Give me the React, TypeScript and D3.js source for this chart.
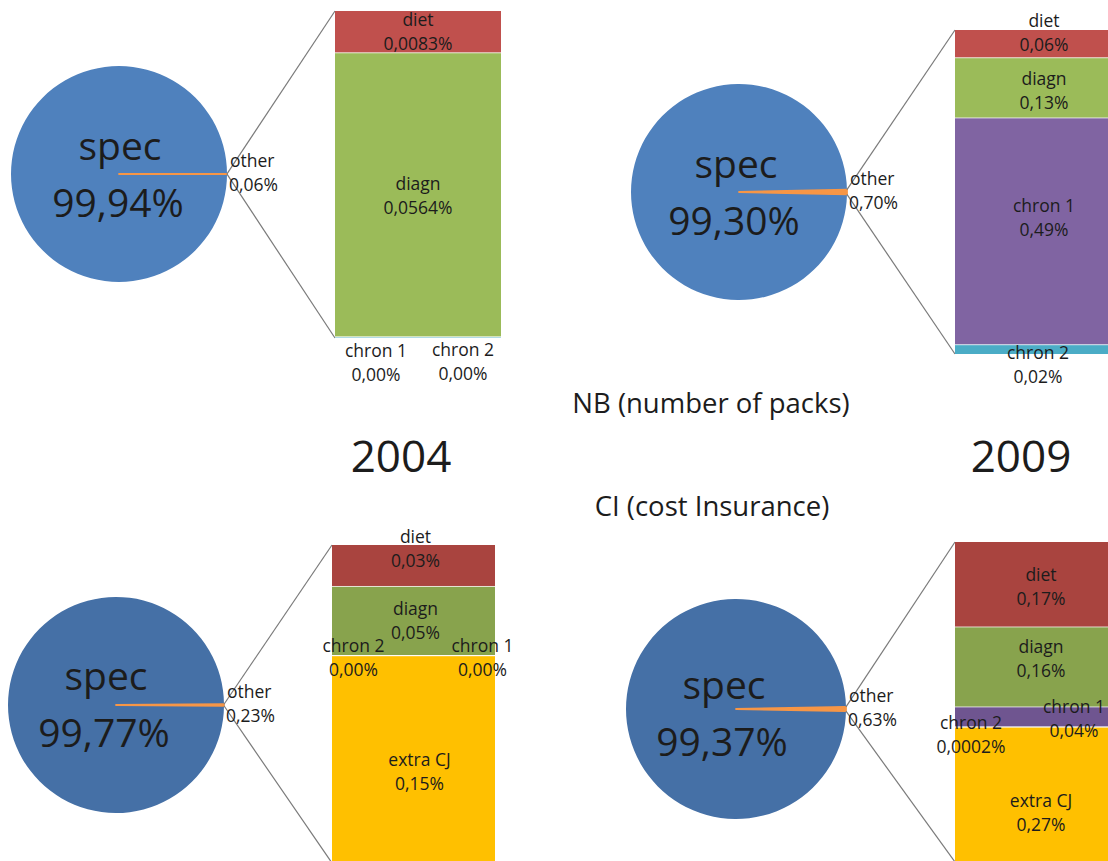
import React from 'react';
import * as d3 from 'd3';

// pie values (percent of total)
const pieNames = ['spec', 'other'];
const nb2004Pie = [99.94, 0.06];
const nb2009Pie = [99.3, 0.7];
const ci2004Pie = [99.77, 0.23];
const ci2009Pie = [99.37, 0.63];
const pieLabels = {
  nb2004: ['99,94%', '0,06%'],
  nb2009: ['99,30%', '0,70%'],
  ci2004: ['99,77%', '0,23%'],
  ci2009: ['99,37%', '0,63%'],
};

// bar of "other" split (top to bottom)
const nb2004Names = ['diet', 'diagn', 'chron 1', 'chron 2'];
const nb2004Values = [0.0083, 0.0564, 0, 0.0002];
const nb2004Labels = ['0,0083%', '0,0564%', '0,00%', '0,00%'];

const nb2009Names = ['diet', 'diagn', 'chron 1', 'chron 2'];
const nb2009Values = [0.06, 0.13, 0.49, 0.02];
const nb2009Labels = ['0,06%', '0,13%', '0,49%', '0,02%'];

const ci2004Names = ['diet', 'diagn', 'chron 2', 'chron 1', 'extra CJ'];
const ci2004Values = [0.03, 0.05, 0, 0, 0.15];
const ci2004Labels = ['0,03%', '0,05%', '0,00%', '0,00%', '0,15%'];

const ci2009Names = ['diet', 'diagn', 'chron 1', 'chron 2', 'extra CJ'];
const ci2009Values = [0.17, 0.16, 0.04, 0.0002, 0.27];
const ci2009Labels = ['0,17%', '0,16%', '0,04%', '0,0002%', '0,27%'];

const FONT = '"Open Sans", "Noto Sans", sans-serif';
const TEXT = '#1c1c1c';

const topColors = {
  spec: '#4f81bd', other: '#f79646', diet: '#c0504d', diagn: '#9bbb59',
  'chron 1': '#8064a2', 'chron 2': '#4bacc6', 'extra CJ': '#ffc000',
};
const bottomColors = {
  spec: '#4570a6', other: '#f79646', diet: '#a9443f', diagn: '#88a34d',
  'chron 1': '#6f5590', 'chron 2': '#4bacc6', 'extra CJ': '#ffc000',
};

// layout of each panel; label offsets are relative to segment middle
const panels = [
  {
    pie: nb2004Pie, pieText: pieLabels.nb2004, names: nb2004Names, values: nb2004Values,
    labels: nb2004Labels, colors: topColors,
    cx: 119, cy: 174, r: 108, specDx: 1, specDy: -14,
    barX: 335, barTop: 11, barW: 166, barH: 327,
    offs: [[0, -6], [0, -5], [-42, 20], [45, 19]],
  },
  {
    pie: nb2009Pie, pieText: pieLabels.nb2009, names: nb2009Names, values: nb2009Values,
    labels: nb2009Labels, colors: topColors,
    cx: 739, cy: 192, r: 108, specDx: -3, specDy: -14,
    barX: 955, barTop: 30, barW: 178, barH: 324,
    offs: [[0, -17], [0, -3], [0, -19], [-6, 10]],
  },
  {
    pie: ci2004Pie, pieText: pieLabels.ci2004, names: ci2004Names, values: ci2004Values,
    labels: ci2004Labels, colors: bottomColors,
    cx: 116, cy: 705, r: 108, specDx: -10, specDy: -15,
    barX: 332, barTop: 545, barW: 163, barH: 318,
    offs: [[2, -23], [2, -6], [-60, -4], [69, -4], [6, 7]],
  },
  {
    pie: ci2009Pie, pieText: pieLabels.ci2009, names: ci2009Names, values: ci2009Values,
    labels: ci2009Labels, colors: bottomColors,
    cx: 736, cy: 709, r: 110, specDx: -12, specDy: -10,
    barX: 955, barTop: 542, barW: 172, barH: 320,
    offs: [[0, -3], [0, -14], [33, -4], [-70, 2], [0, 12]],
  },
];

function Panel({ p }) {
  const total = d3.sum(p.pie);
  const a = (2 * Math.PI * p.pie[1]) / total;
  const pieGen = d3.pie<number>().sort(null)
    .startAngle(Math.PI / 2 + a / 2)
    .endAngle(Math.PI / 2 + a / 2 + 2 * Math.PI);
  const arcs = pieGen(p.pie);
  const arcGen = d3.arc<any>().innerRadius(0).outerRadius(p.r);

  const barSum = d3.sum(p.values);
  const y = d3.scaleLinear().domain([0, barSum]).range([p.barTop, p.barTop + p.barH]);
  const ends = Array.from(d3.cumsum(p.values));
  const starts = ends.map((e, i) => e - p.values[i]);
  const bx = p.barX + p.barW / 2;

  const up = a / 2;
  const p1 = [p.cx + p.r * Math.cos(up), p.cy - p.r * Math.sin(up)];
  const p2 = [p.cx + p.r * Math.cos(up), p.cy + p.r * Math.sin(up)];

  return (
    <g>
      {arcs.map((d, i) => (
        <path key={i} transform={`translate(${p.cx},${p.cy})`} d={arcGen(d) || ''}
          fill={p.colors[pieNames[i]]}
          stroke={i === 1 ? p.colors.other : 'none'} strokeWidth={i === 1 ? 1.8 : 0}
          strokeLinejoin="round" />
      ))}
      <text x={p.cx + p.specDx} y={p.cy + p.specDy} textAnchor="middle" fontSize={39}
        fontFamily={FONT} fill={TEXT}>spec</text>
      <text x={p.cx + p.specDx - 2} y={p.cy + p.specDy + 57} textAnchor="middle" fontSize={39}
        fontFamily={FONT} fill={TEXT}>{p.pieText[0]}</text>

      <line x1={p1[0]} y1={p1[1]} x2={p.barX} y2={y(0)} stroke="#7a7a7a" strokeWidth={1.2} />
      <line x1={p2[0]} y1={p2[1]} x2={p.barX} y2={y(barSum)} stroke="#7a7a7a" strokeWidth={1.2} />

      {p.values.map((v, i) => (
        <rect key={i} x={p.barX} y={y(starts[i])} width={p.barW}
          height={Math.max(0, y(ends[i]) - y(starts[i]))}
          fill={p.colors[p.names[i]]} />
      ))}
      {p.values.map((v, i) => i > 0 ? (
        <line key={'s' + i} x1={p.barX} x2={p.barX + p.barW} y1={y(starts[i])} y2={y(starts[i])}
          stroke="#ffffff" strokeOpacity={0.7} strokeWidth={1} />
      ) : null)}

      <text x={p.cx + p.r + 3} y={p.cy - 7} fontSize={17.5} fontFamily={FONT} fill={TEXT}>other</text>
      <text x={p.cx + p.r + 2} y={p.cy + 17} fontSize={17.5} fontFamily={FONT} fill={TEXT}>{p.pieText[1]}</text>

      {p.names.map((n, i) => {
        const mid = (y(starts[i]) + y(ends[i])) / 2;
        const [dx, dy] = p.offs[i];
        return (
          <g key={'l' + i}>
            <text x={bx + dx} y={mid + dy} textAnchor="middle" fontSize={17.5}
              fontFamily={FONT} fill={TEXT}>{n}</text>
            <text x={bx + dx} y={mid + dy + 24} textAnchor="middle" fontSize={17.5}
              fontFamily={FONT} fill={TEXT}>{p.labels[i]}</text>
          </g>
        );
      })}
    </g>
  );
}

export default function App() {
  return (
    <svg width={1108} height={861} style={{ position: 'absolute', left: 0, top: 0, background: '#fff' }}>
      <rect width={1108} height={861} fill="#fff" />
      {panels.map((p, i) => <Panel key={i} p={p} />)}
      <text x={711} y={413} textAnchor="middle" fontSize={27.5} fontFamily={FONT} fill={TEXT}>NB (number of packs)</text>
      <text x={401} y={472} textAnchor="middle" fontSize={44} fontFamily={FONT} fill={TEXT}>2004</text>
      <text x={1021} y={472} textAnchor="middle" fontSize={44} fontFamily={FONT} fill={TEXT}>2009</text>
      <text x={712} y={516} textAnchor="middle" fontSize={27.5} fontFamily={FONT} fill={TEXT}>CI (cost Insurance)</text>
    </svg>
  );
}
